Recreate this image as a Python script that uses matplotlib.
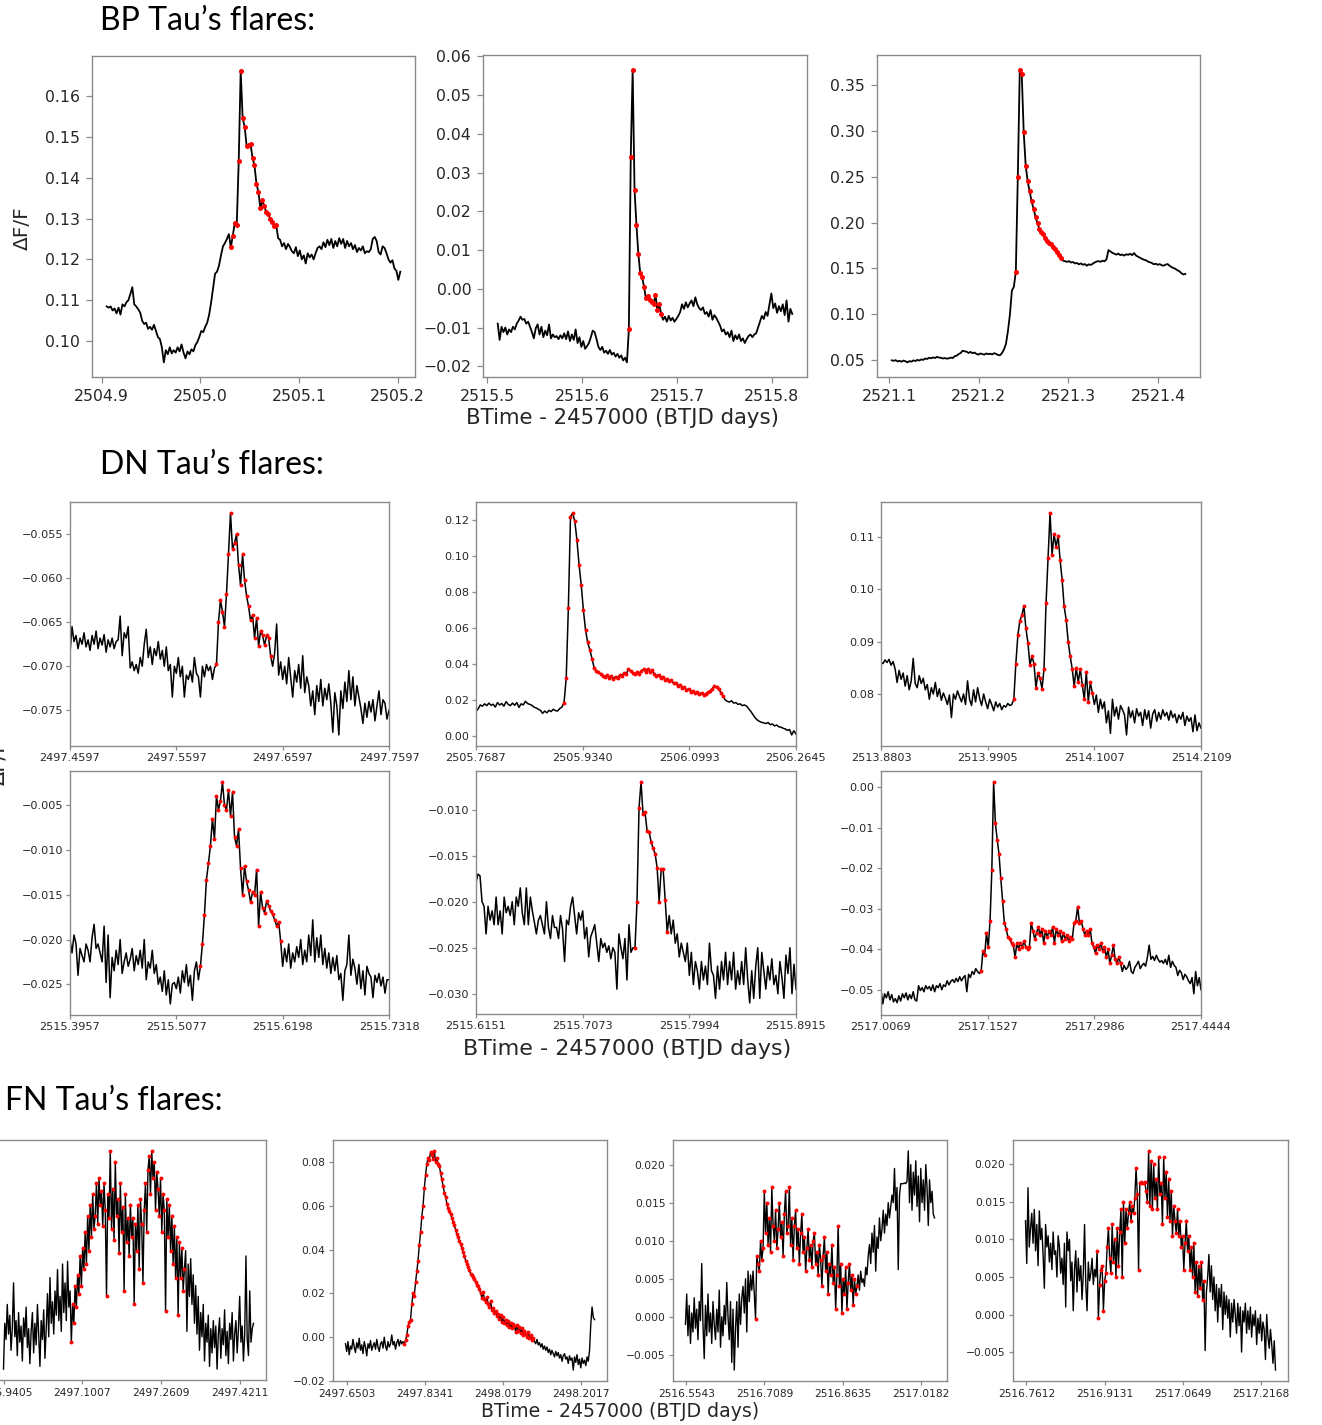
import numpy as np
import matplotlib
matplotlib.use("Agg")
import matplotlib.pyplot as plt
from matplotlib.ticker import FuncFormatter

# ---------------- BP Tau light curves (flux in units of 1e-4) ----------------
bp1_span = (2504.905, 2505.2027)
bp1_flux = [1085, 1082, 1085, 1075, 1080, 1068, 1082, 1065, 1090, 1085, 1095, 1100, 1115, 1132, 1090, 1085,
            1078, 1070, 1050, 1042, 1045, 1030, 1035, 1028, 1040, 1025, 1010, 1005, 985, 948, 978, 968, 985,
            970, 978, 972, 985, 975, 992, 972, 958, 975, 968, 980, 975, 990, 998, 1010, 1025, 1022, 1035,
            1045, 1065, 1095, 1130, 1165, 1170, 1185, 1210, 1232, 1240, 1250, 1262,
            1230, 1258, 1290, 1285, 1440, 1662, 1545, 1525, 1478, 1480, 1482, 1448, 1430, 1385, 1365, 1325,
            1345, 1330, 1315, 1310, 1300, 1292, 1282, 1285,
            1252, 1248, 1232, 1240, 1225, 1238, 1230, 1220, 1215, 1230, 1208, 1222, 1200, 1210, 1190, 1215,
            1205, 1212, 1200, 1215, 1228, 1232, 1225, 1242, 1230, 1248, 1235, 1250, 1228, 1245, 1232, 1252,
            1238, 1250, 1228, 1245, 1232, 1240, 1225, 1235, 1218, 1228, 1222, 1232, 1215, 1220, 1218, 1225,
            1250, 1255, 1245, 1218, 1212, 1232, 1228, 1215, 1200, 1192, 1198, 1178, 1172, 1150, 1170]
bp1_flare = (63, 86)
bp1_xticks = [2504.9, 2505.0, 2505.1, 2505.2]
bp1_yticks = [0.10, 0.11, 0.12, 0.13, 0.14, 0.15, 0.16]

bp2_span = (2515.5112, 2515.8214)
bp2_flux = [-90, -132, -98, -112, -100, -118, -105, -112, -98, -105, -90, -82, -72, -80, -78, -90, -85, -98,
            -112, -128, -102, -92, -118, -98, -125, -108, -120, -92, -128, -118, -125, -122, -130, -120,
            -128, -115, -130, -110, -135, -118, -132, -105, -140, -125, -150, -135, -155, -148, -140, -125,
            -108, -112, -130, -150, -158, -150, -165, -160, -168, -158, -170, -165, -175, -168, -178, -172,
            -185, -178, -190,
            -105, 340, 566, 255, 165, 90, 40, 30, 5, -25, -18, -30, -35, -40, -15, -55, -40, -65,
            -80, -72, -85, -70, -82, -75, -85, -78, -70, -60, -40, -52, -35, -48, -38, -30, -45, -22, -40,
            -50, -55, -48, -65, -60, -72, -55, -80, -68, -75, -85, -95, -110, -105, -118, -112, -125, -108,
            -135, -120, -130, -118, -135, -128, -140, -130, -122, -118, -125, -118, -115, -100, -85, -70,
            -78, -60, -70, -40, -12, -50, -38, -62, -45, -58, -40, -68, -30, -85, -52, -65]
bp2_flare = (69, 86)
bp2_xticks = [2515.5, 2515.6, 2515.7, 2515.8]
bp2_yticks = [-0.02, -0.01, 0.00, 0.01, 0.02, 0.03, 0.04, 0.05, 0.06]

bp3_span = (2521.1026, 2521.4305)
bp3_flux = [500, 495, 502, 488, 495, 485, 498, 490, 478, 492, 485, 500, 492, 505, 498, 510, 505, 520, 515,
            528, 522, 532, 525, 538, 530, 528, 520, 525, 518, 522, 530, 525, 545, 552, 568, 580, 605, 598,
            595, 580, 592, 578, 585, 570, 562, 575, 568, 562, 575, 568, 572, 565, 578, 570, 558, 555, 580,
            620, 680, 820, 1000, 1260, 1300,
            1466, 2500, 3664, 3615, 2980, 2620, 2450, 2340, 2230, 2150, 2060, 1990, 1930, 1895, 1870, 1835,
            1800, 1775, 1770, 1735, 1710, 1680, 1650, 1610,
            1585, 1578, 1572, 1580, 1565, 1570, 1555, 1560, 1545, 1555, 1540, 1548, 1530, 1545, 1538, 1552,
            1565, 1575, 1580, 1572, 1585, 1578, 1600, 1700, 1685, 1670, 1660, 1650, 1662, 1645, 1652, 1640,
            1655, 1648, 1660, 1645, 1668, 1640, 1628, 1615, 1605, 1595, 1590, 1575, 1568, 1560, 1545, 1552,
            1540, 1548, 1535, 1530, 1542, 1548, 1530, 1515, 1505, 1495, 1480, 1470, 1448, 1435, 1440]
bp3_flare = (63, 86)
bp3_xticks = [2521.1, 2521.2, 2521.3, 2521.4]
bp3_yticks = [0.05, 0.10, 0.15, 0.20, 0.25, 0.30, 0.35]

# ---------------- DN Tau light curves ----------------
dn1_span = (2497.4597, 2497.7597)
dn1_flux = [-685, -655, -672, -665, -680, -668, -675, -662, -678, -670, -682, -665, -675, -660, -680, -668,
            -676, -664, -684, -670, -678, -668, -680, -672, -670, -643, -688, -662, -668, -655, -702, -695,
            -705, -698, -708, -690, -700, -675, -658, -690, -678, -698, -680, -688, -672, -692, -682, -700,
            -678, -705, -698, -735, -700, -708, -690, -712, -700, -735, -710, -715, -705, -718, -690, -708,
            -712, -735, -700, -712, -698, -705, -700, -715, -702,
            -698, -650, -625, -638, -655, -618, -572, -526, -567, -560, -550, -585, -608, -573, -602, -620,
            -632, -648, -642, -668, -645, -677, -660, -665, -676, -665, -668, -688,
            -700, -685, -652, -710, -695, -715, -700, -720, -690, -712, -735, -705, -718, -698, -725, -688,
            -730, -712, -722, -745, -728, -755, -722, -740, -715, -745, -725, -738, -720, -742, -775, -730,
            -745, -778, -728, -748, -718, -740, -705, -738, -712, -745, -722, -735, -748, -765, -742, -758,
            -740, -752, -738, -762, -745, -728, -755, -738, -742, -760, -750]
dn1_flare = (73, 100)
dn1_xticks = ["2497.4597", "2497.5597", "2497.6597", "2497.7597"]
dn1_yticks = [-0.075, -0.070, -0.065, -0.060, -0.055]

dn2_span = (2505.7687, 2506.2645)
dn2_flux = [136, 150, 172, 165, 178, 168, 182, 170, 176, 160, 185, 172, 180, 165, 190, 175, 168, 182, 170,
            185, 158, 178, 172, 192, 180, 175, 170, 160, 155, 148, 142, 125, 138, 128, 142, 135, 148, 140,
            138, 152, 160,
            185, 320, 710, 1220, 1240, 1195, 1090, 950, 840, 700, 590, 520, 480, 430, 380, 360, 355, 345,
            335, 330, 338, 322, 335, 318, 330, 322, 340, 335, 352, 345, 372, 360, 350, 342, 355, 345, 362,
            370, 358, 372, 355, 365, 345, 335, 340, 322, 330, 312, 318, 305, 310, 292, 295, 280, 285, 268,
            272, 255, 262, 245, 250, 238, 242, 232, 240, 228, 235, 242, 250, 262, 278, 270, 262, 240, 222,
            200, 192, 188, 195, 182, 185, 175, 178, 168, 172, 165, 150, 135, 118, 100, 88, 80, 75, 72, 68,
            74, 62, 66, 55, 60, 50, 48, 42, 38, 30, 35, 5, 28, 10]
dn2_flare = (41, 115)
dn2_xticks = ["2505.7687", "2505.9340", "2506.0993", "2506.2645"]
dn2_yticks = [0.00, 0.02, 0.04, 0.06, 0.08, 0.10, 0.12]

dn3_span = (2513.8803, 2514.2109)
dn3_flux = [861, 858, 865, 860, 866, 855, 862, 848, 822, 845, 828, 840, 815, 835, 808, 825, 868, 820, 812,
            835, 820, 830, 808, 818, 790, 812, 800, 822, 795, 810, 788, 802, 792, 780, 798, 755, 800, 790,
            806, 795, 785, 800, 780, 825, 790, 778, 808, 785, 812, 792, 778, 800, 785, 772, 790, 780, 768,
            785, 775, 782, 770, 778, 775, 782, 778, 780,
            790, 858, 912, 940, 950, 968, 925, 898, 855, 872, 858, 812, 840, 830, 810, 848, 973, 1060, 1145,
            1065, 1105, 1080, 1102, 1055, 1018, 967, 942, 900, 872, 848, 815, 850, 822, 848, 818, 790, 842,
            785, 822, 802,
            780, 798, 765, 790, 772, 785, 745, 768, 725, 790, 758, 775, 752, 778, 770, 760, 722, 775, 755,
            768, 745, 772, 758, 765, 740, 770, 752, 768, 735, 762, 770, 748, 765, 752, 770, 758, 765, 750,
            768, 755, 762, 745, 760, 752, 765, 740, 758, 748, 755, 728, 760, 730, 745, 735]
dn3_flare = (66, 105)
dn3_xticks = ["2513.8803", "2513.9905", "2514.1007", "2514.2109"]
dn3_yticks = [0.08, 0.09, 0.10, 0.11]

dn4_span = (2515.3957, 2515.7318)
dn4_flux = [-200, -215, -195, -205, -240, -210, -218, -225, -205, -212, -225, -198, -183, -210, -205, -215,
            -225, -185, -248, -195, -265, -220, -235, -212, -228, -200, -238, -225, -215, -230, -222, -210,
            -235, -218, -228, -212, -232, -200, -245, -225, -232, -212, -238, -228, -250, -242, -258, -235,
            -262, -245, -272, -250, -248, -255, -242, -260, -235, -248, -228, -252, -240, -268, -235, -225,
            -245,
            -230, -205, -173, -133, -115, -95, -65, -88, -40, -55, -45, -24, -50, -55, -33, -62, -35, -85,
            -95, -77, -120, -150, -118, -135, -145, -158, -147, -150, -122, -185, -147, -165, -170, -157,
            -162, -168, -172, -178, -185, -180, -202,
            -230, -210, -225, -205, -232, -215, -225, -208, -220, -200, -228, -212, -225, -195, -218, -178,
            -225, -198, -220, -195, -228, -210, -232, -215, -238, -220, -235, -218, -245, -238, -268, -235,
            -228, -195, -240, -222, -232, -250, -228, -255, -235, -262, -230, -238, -242, -265, -240, -248,
            -238, -252, -242, -260, -245, -245]
dn4_flare = (65, 105)
dn4_xticks = ["2515.3957", "2515.5077", "2515.6198", "2515.7318"]
dn4_yticks = [-0.025, -0.020, -0.015, -0.010, -0.005]

dn5_span = (2515.6151, 2515.8915)
dn5_flux = [-179, -170, -172, -200, -205, -235, -205, -220, -210, -225, -195, -225, -210, -235, -195, -212,
            -205, -215, -200, -225, -195, -205, -185, -212, -225, -185, -225, -195, -210, -222, -235, -220,
            -215, -225, -235, -200, -228, -240, -215, -228, -228, -240, -215, -230, -265, -220, -225, -205,
            -195, -215, -235, -212, -220, -210, -240, -228, -260, -238, -232, -225, -245, -265, -240, -250,
            -245, -255, -248, -262, -250, -255, -295, -235, -250, -262, -240, -285, -225, -255, -250,
            -250, -200, -98, -70, -105, -103, -123, -124, -135, -142, -148, -163, -200, -165, -165, -198, -233,
            -215, -235, -220, -245, -235, -260, -245, -255, -265, -245, -280, -255, -290, -265, -275, -295,
            -265, -285, -270, -290, -245, -275, -280, -305, -270, -295, -265, -285, -255, -290, -265, -285,
            -255, -295, -275, -290, -265, -290, -250, -285, -310, -275, -305, -270, -250, -305, -255, -275,
            -295, -270, -285, -262, -290, -280, -300, -265, -282, -305, -258, -278, -250, -300, -268, -295]
dn5_flare = (79, 95)
dn5_xticks = ["2515.6151", "2515.7073", "2515.7994", "2515.8915"]
dn5_yticks = [-0.030, -0.025, -0.020, -0.015, -0.010]

dn6_span = (2517.0069, 2517.4444)
dn6_flux = [-500, -535, -510, -520, -505, -525, -512, -530, -522, -532, -515, -528, -510, -520, -508, -525,
            -512, -522, -505, -525, -528, -490, -502, -495, -505, -490, -498, -492, -502, -488, -505, -490,
            -495, -485, -500, -488, -492, -478, -488, -480, -475, -482, -472, -480, -468, -478, -470, -465,
            -505, -462, -470, -455, -462, -448, -455, -460,
            -455, -405, -415, -360, -395, -330, -205, 12,
            -90, -130, -165, -225, -280, -335, -350, -370, -375, -385, -390, -420, -385, -400, -385, -395,
            -380, -395, -400, -395, -335, -355, -375, -360, -345, -365, -350, -385, -355, -370, -355, -365,
            -345, -385, -350, -365, -355, -380, -360, -375, -365, -380, -370, -375, -335, -330, -295, -335,
            -330, -350, -365, -355, -365, -350, -385, -395, -410, -390, -400, -385, -405, -395, -420, -400,
            -435, -415, -390, -425, -435, -420, -435,
            -455, -440, -450, -445, -430, -455, -460, -445, -438, -430, -448, -440, -435, -442, -420, -390,
            -425, -418, -428, -415, -425, -432, -428, -435, -425, -438, -415, -445, -430, -440, -445, -465,
            -452, -458, -475, -462, -468, -478, -485, -470, -510, -455, -490, -470, -500]
dn6_flare = (56, 134)
dn6_xticks = ["2517.0069", "2517.1527", "2517.2986", "2517.4444"]
dn6_yticks = [-0.05, -0.04, -0.03, -0.02, -0.01, 0.00]

# ---------------- FN Tau light curves ----------------
fn1_span = (2496.9405, 2497.448)
fn1_flux = [-90, 80, 20, 150, 40, 110, -20, 60, 230, 30, 90, -40, 120, 10, 70, -60, 100, 30, 140, -10, 60,
            -70, 50, 120, -30, 80, 0, 150, 40, -80, 90, 20, 130, -50, 60, 190, 30, 250, 80, 160, 40, 200, 110,
            280, 90, 180, 50, 300, 120, 230, 90, 310, 140, 200,
            10, 150, 80, 220, 140, 260, 190, 330, 220, 360, 280, 420, 300, 480, 350, 520, 400, 560, 430, 480,
            600, 450, 620, 520, 570, 440, 600, 500, 180, 560, 470, 720, 430, 580, 390, 680, 480, 540, 340,
            600, 420, 510, 200, 560, 380, 470, 330, 520, 400, 470, 150, 450, 350, 520, 280, 540, 450, 230,
            500, 600, 420, 650, 700, 560, 720, 620, 680, 500, 640, 580, 480, 620, 420, 560, 500, 125, 540,
            400, 520, 350, 480, 300, 440, 250, 400, 112, 380, 250, 360, 200, 280,
            350, 50, 300, 180, 320, 150, 260, 80, 220, 40, 180, -20, 120, 30, 150, -60, 80, 10, 110, -80, 60,
            -30, 90, -10, 70, -90, 40, 100, -50, 60, 0, 130, -40, 50, -70, 80, 20, 120, -60, 40, 90, -30, 60,
            180, 10, 70, -60, 40, 330, 20, -40, 200, 10, 60, 80]
fn1_flare = (54, 144)
fn1_xticks = ["2496.9405", "2497.1007", "2497.2609", "2497.4211"]
fn1_yticks = []

fn2_span = (2497.6473, 2498.2330)
fn2_flux = [-30, -65, -20, -80, -40, -55, -10, -45, -70, -25, -50, -5, -60, -35, -75, -20, -45, -85, -30,
            -50, -15, -60, -40, -25, -55, -10, -45, -65, -30, -20, -50, 0, -40, -60, -20, -45, -30, 10, -35,
            -20, -55, -25, -10, -40, -15, -30, -20,
            -30, -15, 10, 50, 70, 80, 150, 200, 190, 250, 300, 350, 420, 480, 550, 600, 680, 740, 790, 820,
            810, 845, 830, 815, 850, 800, 820, 790, 780, 750, 720, 690, 660, 640, 610, 590, 575, 560, 545,
            525, 510, 490, 470, 455, 440, 425, 405, 390, 370, 350, 335, 320, 305, 290, 285, 275, 265, 250,
            240, 235, 220, 200, 180, 205, 175, 160, 185, 150, 140, 165, 125, 135, 110, 120, 95, 105, 85, 100,
            70, 90, 65, 80, 55, 75, 45, 65, 40, 60, 50, 25, 55, 30, 45, 20, 40, 10, 30, 15, 0, 25, -5, 10,
            -15, -5,
            -20, -30, -10, -35, -25, -45, -30, -55, -40, -60, -45, -70, -55, -80, -60, -75, -90, -65, -85,
            -70, -95, -80, -110, -85, -75, -100, -90, -120, -85, -105, -95, -150, -90, -115, -80, -125,
            -100, -140, -95, -120, -105, -130, -90, -110, -60, 60, 138, 90, 80]
fn2_flare = (47, 150)
fn2_xticks = ["2497.6503", "2497.8341", "2498.0179", "2498.2017"]
fn2_yticks = [-0.02, 0.00, 0.02, 0.04, 0.06, 0.08]

fn3_span = (2516.5526, 2517.0457)
fn3_flux = [-10, 30, -25, 15, -35, 5, -20, 25, -15, 10, -30, 20, -5, 70, -10, -55, 15, -25, 30, -20, 5, -35,
            20, -10, -30, 10, -20, 35, -40, 0, -25, 15, -10, 45, 0, -30, 20, -60, 10, -70, -15, 20, -40, 30,
            -10, 25, 40, 5, 50, -20, 60, 20, 55, 35, 60, 30,
            -3, 80, 70, 60, 100, 75, 90, 165, 110, 150, 95, 130, 85, 170, 120, 100, 140, 90, 115, 150, 105,
            125, 80, 135, 165, 110, 120, 170, 95, 130, 75, 120, 140, 90, 115, 70, 110, 135, 85, 105, 60, 90,
            115, 75, 95, 65, 100, 110, 70, 85, 55, 95, 75, 40, 80, 105, 60, 85, 30, 70, 55, 95, 45, 65, 10,
            55, 120, 40, 70, 5, 50, 30, 65, 10, 45, 70, 35, 55, 15, 50, 30, 40,
            55, 35, 60, 45, 50, 40, 65, 55, 80, 95, 70, 110, 85, 120, 60, 105, 90, 130, 100, 115, 140, 110,
            135, 120, 150, 130, 145, 160, 150, 195, 140, 170, 62, 160, 175, 175, 175, 176, 175, 178, 218,
            150, 200, 140, 190, 160, 205, 145, 185, 125, 195, 150, 180, 140, 200, 170, 120, 180, 150, 165,
            135, 130]
fn3_flare = (56, 137)
fn3_xticks = ["2516.5543", "2516.7089", "2516.8635", "2517.0182"]
fn3_yticks = [-0.005, 0.000, 0.005, 0.010, 0.015, 0.020]

fn4_span = (2516.7593, 2517.2446)
fn4_flux = [125, 68, 169, 90, 115, 135, 95, 140, 85, 120, 65, 138, 100, 115, 80, 35, 120, 90, 105, 70, 95,
            60, 110, 80, 85, 50, 105, 90, 55, 75, 40, 95, 10, 110, 85, 100, 45, 70, 5, 60, 85, 30, 75, 45, 65,
            20, 55, 120, 40, 5, 70, 45, 55, 75, 40, 60, 50,
            85, -5, 40, 60, 65, 5, 45, 55, 90, 115, 75, 55, 120, 70, 100, 50, 115, 65, 110, 140, 50, 150, 95,
            140, 115, 135, 150, 125, 145, 135, 155, 195, 160, 60, 175, 176, 175, 175, 176, 165, 150, 218,
            145, 205, 140, 200, 155, 180, 140, 210, 160, 175, 120, 210, 155, 190, 130, 180, 125, 165, 105,
            145, 125, 108, 140, 105, 125, 90, 105, 60, 95, 125, 85, 105, 60, 90, 50, 95, 30, 70, 25, 65, 35,
            70, 20, 45,
            -48, 30, 50, 80, 30, 65, 20, 50, 5, 40, -10, 35, 10, 40, -20, 30, 0, 25, -5, 20, -30, 15, -10, 20,
            0, -25, 15, -15, 10, -50, 5, -10, 15, -25, 5, -20, 10, -30, 0, -15, 5, -40, -5, -25, 0, -35, -10,
            -20, -60, 0, -30, -45, -20, -40, -65, -35, -74]
fn4_flare = (57, 142)
fn4_xticks = ["2516.7612", "2516.9131", "2517.0649", "2517.2168"]
fn4_yticks = [-0.005, 0.000, 0.005, 0.010, 0.015, 0.020]

# ---------------- figure ----------------
W, H = 1322, 1425
fig = plt.figure(figsize=(W / 100, H / 100), dpi=100)
fig.patch.set_facecolor("white")

SPINE = "#8a8a8a"
TXT = "#262626"
TITLE_FONT = ["Lato", "DejaVu Sans"]


def px_axes(l, t, r, b):
    return fig.add_axes([l / W, 1 - b / H, (r - l) / W, (b - t) / H])


def minus(s):
    return s.replace("-", "\u2212")


def draw(box, span, flux, flare, xticks, yticks, ydec, style, tight_x=False):
    ax = px_axes(*box)
    y = np.asarray(flux, dtype=float) / 1e4
    t = np.linspace(span[0], span[1], len(y))
    ax.plot(t, y, color="black", lw=style["lw"], zorder=2)
    i0, i1 = flare
    ax.plot(t[i0:i1 + 1], y[i0:i1 + 1], "o", color="red", ms=style["ms"], mew=0, zorder=3)

    # tick labels are the written strings; positions come from them
    ax.set_xticks([float(v) for v in xticks])
    ax.set_xticklabels([str(v) for v in xticks])
    ax.set_yticks(yticks)
    ax.yaxis.set_major_formatter(FuncFormatter(
        lambda v, p, d=ydec: minus(f"{0.0 if abs(v) < 1e-12 else v:.{d}f}")))

    if tight_x:
        ax.set_xlim(span[0], span[1])
    else:
        pad = 0.05 * (span[1] - span[0])
        ax.set_xlim(span[0] - pad, span[1] + pad)
    lo, hi = y.min(), y.max()
    pad = 0.05 * (hi - lo)
    ax.set_ylim(lo - pad, hi + pad)

    for s in ax.spines.values():
        s.set_color(SPINE)
        s.set_linewidth(1.0)
    ax.tick_params(axis="both", colors=SPINE, labelcolor=TXT, labelsize=style["fs"],
                   length=style["tl"], pad=style["pad"], width=0.9)
    return ax


bp_style = dict(lw=1.3, ms=3.6, fs=11.3, tl=4.5, pad=4.0)
dn_style = dict(lw=1.1, ms=2.8, fs=8.1, tl=3.0, pad=2.0)
fn_style = dict(lw=1.0, ms=2.8, fs=7.7, tl=3.0, pad=2.5)

# BP Tau row
draw((92, 56, 415, 377), bp1_span, bp1_flux, bp1_flare, bp1_xticks, bp1_yticks, 2, bp_style)
draw((483, 55, 807, 377), bp2_span, bp2_flux, bp2_flare, bp2_xticks, bp2_yticks, 2, bp_style)
draw((877, 55, 1200, 377), bp3_span, bp3_flux, bp3_flare, bp3_xticks, bp3_yticks, 2, bp_style)

# DN Tau rows
for box, span, flux, flare, xt, yt, dec in [
    ((70, 502, 389, 746), dn1_span, dn1_flux, dn1_flare, dn1_xticks, dn1_yticks, 3),
    ((476, 502, 796, 746), dn2_span, dn2_flux, dn2_flare, dn2_xticks, dn2_yticks, 2),
    ((881, 502, 1201, 746), dn3_span, dn3_flux, dn3_flare, dn3_xticks, dn3_yticks, 2),
    ((70, 771, 389, 1015), dn4_span, dn4_flux, dn4_flare, dn4_xticks, dn4_yticks, 3),
    ((476, 771, 796, 1014), dn5_span, dn5_flux, dn5_flare, dn5_xticks, dn5_yticks, 3),
    ((881, 771, 1201, 1015), dn6_span, dn6_flux, dn6_flare, dn6_xticks, dn6_yticks, 2),
]:
    draw(box, span, flux, flare, xt, yt, dec, dn_style, tight_x=True)

# FN Tau row
draw((-9, 1140, 266, 1380), fn1_span, fn1_flux, fn1_flare, fn1_xticks, fn1_yticks, 2, fn_style)
draw((333, 1140, 607, 1381), fn2_span, fn2_flux, fn2_flare, fn2_xticks, fn2_yticks, 2, fn_style)
draw((673, 1140, 947, 1381), fn3_span, fn3_flux, fn3_flare, fn3_xticks, fn3_yticks, 3, fn_style)
draw((1013, 1140, 1288, 1381), fn4_span, fn4_flux, fn4_flare, fn4_xticks, fn4_yticks, 3, fn_style)

# section headings
fig.text(100 / W, 1 - 30 / H, "BP Tau\u2019s flares:", fontsize=23, family=TITLE_FONT, va="baseline")
fig.text(100 / W, 1 - 474 / H, "DN Tau\u2019s flares:", fontsize=23, family=TITLE_FONT, va="baseline")
fig.text(5 / W, 1 - 1110 / H, "FN Tau\u2019s flares:", fontsize=23, family=TITLE_FONT, va="baseline")

# shared axis labels
xlab = "BTime - 2457000 (BTJD days)"
fig.text(623 / W, 1 - 424 / H, xlab, fontsize=15.3, color=TXT, ha="center", va="baseline")
fig.text(627 / W, 1 - 1055 / H, xlab, fontsize=16.0, color=TXT, ha="center", va="baseline")
fig.text(620 / W, 1 - 1417 / H, xlab, fontsize=13.6, color=TXT, ha="center", va="baseline")
fig.text(22 / W, 1 - 228 / H, "\u0394F/F", fontsize=14.5, color=TXT, rotation=90, ha="center", va="center")
fig.text(-2 / W, 1 - 762 / H, "\u0394F/F", fontsize=15, color=TXT, rotation=90, ha="center", va="center")

fig.savefig("out.png", dpi=100, facecolor="white")
